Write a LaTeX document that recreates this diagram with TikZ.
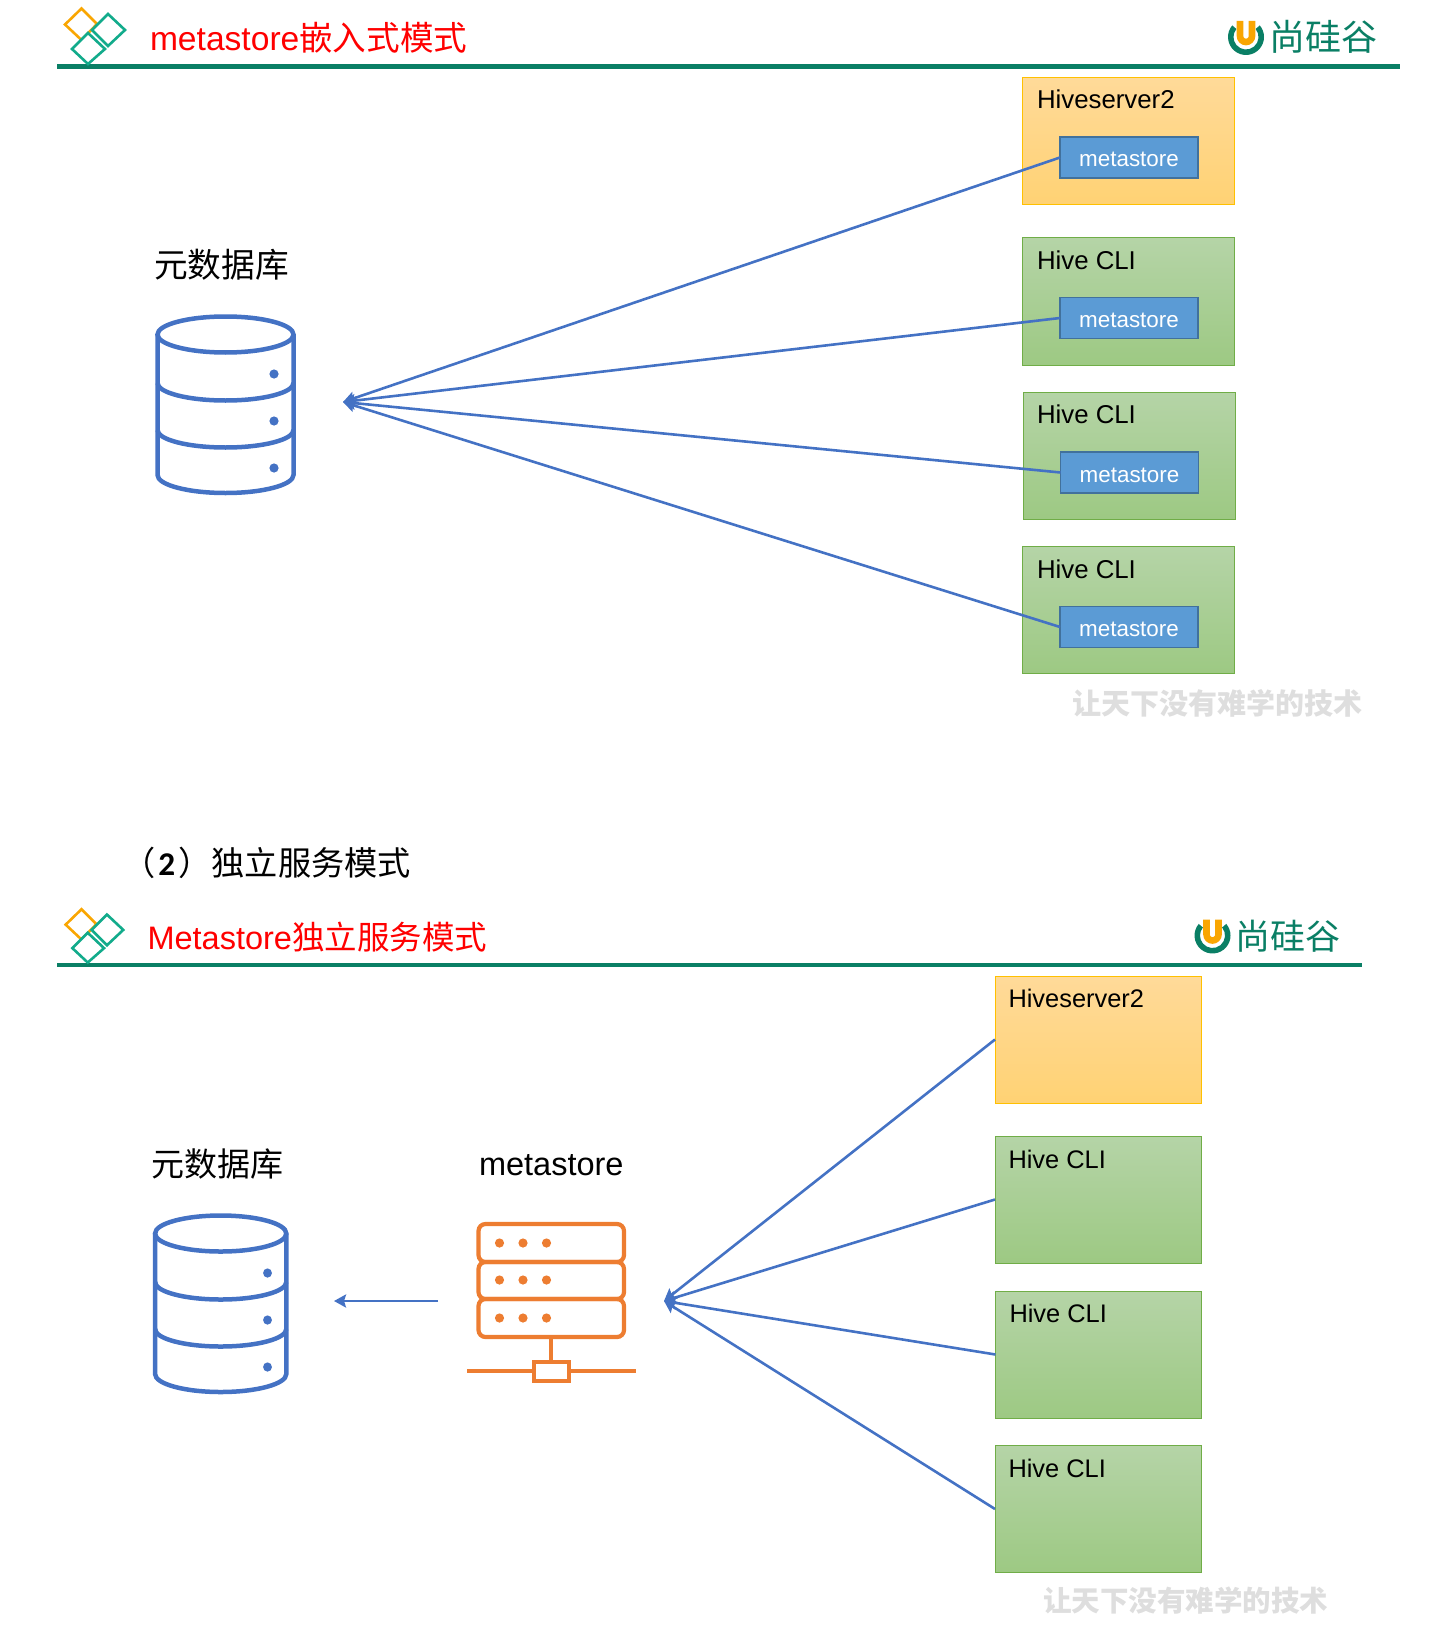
\documentclass[tikz,border=0pt]{standalone}
\usepackage{fontspec}
\setmainfont{Liberation Sans}
\newfontfamily\cjk{Noto Sans CJK SC}
\newfontfamily\digitfont{Carlito}
\usetikzlibrary{arrows.meta}
\definecolor{linkblue}{HTML}{4472C4}
\definecolor{srvorange}{HTML}{ED7D31}
\definecolor{rulegreen}{HTML}{0A7F65}
\definecolor{diagreen}{HTML}{12AB8B}
\definecolor{diaorange}{HTML}{F9A602}
\definecolor{orangeT}{HTML}{FFDA99}
\definecolor{orangeB}{HTML}{FFD274}
\definecolor{orangeE}{HTML}{FFC000}
\definecolor{greenT}{HTML}{B5D4A7}
\definecolor{greenB}{HTML}{9DC983}
\definecolor{greenE}{HTML}{70AD47}
\definecolor{storeF}{HTML}{5B9BD5}
\definecolor{storeE}{HTML}{41719C}
\newcommand{\fs}[1]{\fontsize{#1}{#1}\selectfont}
\tikzset{
  x=1pt,y=-1pt,
  txt/.style={inner sep=0pt,outer sep=0pt,anchor=west},
  title/.style={txt,text=red},
  boxlabel/.style={txt,text=black,font=\fs{25.8}},
  boxlabelb/.style={txt,text=black,font=\fs{25.4}},
  wm/.style={txt,text=black!13,font=\cjk\bfseries\fs{29}},
  hivebox/.style={draw=#1,line width=1pt,inner sep=0pt,outer sep=0pt,anchor=north west,minimum height=127pt},
  orangebox/.style={hivebox=orangeE,top color=orangeT,bottom color=orangeB,minimum width=#1},
  greenbox/.style={hivebox=greenE,top color=greenT,bottom color=greenB,minimum width=#1},
  storebox/.style={draw=storeE,line width=1.5pt,fill=storeF,text=white,font=\fs{22.4},inner sep=0pt,outer sep=0pt,minimum width=138pt,minimum height=41pt,anchor=north west,text height=19pt,text depth=0pt},
  link/.style={draw=linkblue,line width=2.6pt},
  linkarrow/.style={link,-{Stealth[length=12pt,width=13pt,inset=2pt]}},
  rulebar/.style={draw=rulegreen,line width=4.5pt},
  pics/dbicon/.style={code={
    \begin{scope}[draw=linkblue,line width=4.5pt]
      \draw (0,0) ellipse [x radius=68pt,y radius=18pt];
      \draw (-68,0) -- (-68,140.5) arc [start angle=180,end angle=360,x radius=68pt,y radius=18pt] -- (68,0);
      \draw (-68,48.5) arc [start angle=180,end angle=360,x radius=68pt,y radius=17.5pt];
      \draw (-68,95.5) arc [start angle=180,end angle=360,x radius=68pt,y radius=17.5pt];
    \end{scope}
    \fill[linkblue] (48.5,39.5) circle [radius=4.6pt] (48.5,86.5) circle [radius=4.6pt] (48.5,133.5) circle [radius=4.6pt];
  }},
  pics/diamonds/.style={code={
    \draw[diaorange,line width=2.6pt] (-16.5,-15.5) -- (0,-31.5) -- (15.5,-16) -- (0,0) -- cycle;
    \draw[diagreen,line width=2.6pt,fill=white] (10.5,-10) -- (26.5,-26) -- (43.5,-10) -- (26.5,6) -- cycle;
    \draw[diagreen,line width=2.6pt,fill=white] (-9.5,9) -- (6.5,-7) -- (23.5,9) -- (6.5,24) -- cycle;
  }},
  pics/ulogo/.style={code={
    \fill[rulegreen] (140:18pt) arc [start angle=140,end angle=400,radius=18pt] -- (40:12.5pt) arc [start angle=40,end angle=-220,radius=12.5pt] -- cycle;
    \draw[diaorange,line width=6.6pt] (-6,-16) -- (-6,-1) arc [start angle=180,end angle=360,radius=6pt] -- (6,-16);
  }},
}
\begin{document}
\begin{tikzpicture}
\useasboundingbox (0,0) rectangle (1454,1629);
% ---------- upper slide ----------
\draw[rulebar] (57,66.5) -- (1400,66.5);
\pic at (81.5,40) {diamonds};
\node[title,font=\fs{33.6}] (t1) at (150,38) {metastore{\cjk 嵌入式模式}};
\pic at (1246,37) {ulogo};
\node[txt,text=rulegreen,font=\cjk\fs{36}] (l1) at (1269,36.5) {尚硅谷};
\node[txt,font=\cjk\fs{33.7}] (d1) at (154,265) {元数据库};
\pic at (225.5,334.5) {dbicon};
\coordinate (tip1) at (343,402);
\node[orangebox=212pt] (a1) at (1022.5,77.5) {};
\node[greenbox=212pt] (a2) at (1022.5,238) {};
\node[greenbox=212pt] (a3) at (1023,392) {};
\node[greenbox=212pt] (a4) at (1022.5,546.5) {};
\node[boxlabel] (a1t) at (1037,99.5) {Hiveserver2};
\node[boxlabel] (a2t) at (1037,260) {Hive CLI};
\node[boxlabel] (a3t) at (1037,414) {Hive CLI};
\node[boxlabel] (a4t) at (1037,569) {Hive CLI};
\node[storebox] (m1) at (1060,137) {metastore};
\node[storebox] (m2) at (1060,297.5) {metastore};
\node[storebox] (m3) at (1060.5,452) {metastore};
\node[storebox] (m4) at (1060,606.5) {metastore};
\draw[linkarrow] (m1.west) -- (tip1);
\draw[linkarrow] (m2.west) -- (tip1);
\draw[linkarrow] (m3.west) -- (tip1);
\draw[linkarrow] (m4.west) -- (tip1);
\node[wm] (w1) at (1072,703) {让天下没有难学的技术};
% ---------- heading between ----------
\node[txt,font=\cjk\fs{33.2}] (h2) at (122,863) {（\kern3.2pt{\digitfont\bfseries 2}\kern3.2pt）独立服务模式};
% ---------- lower slide ----------
\draw[rulebar] (57,965) -- (1361.5,965);
\pic[scale=0.96] at (81.5,939.5) {diamonds};
\node[title,font=\fs{32.5}] (t2) at (147.5,937) {Metastore{\cjk 独立服务模式}};
\pic at (1212.5,935.5) {ulogo};
\node[txt,text=rulegreen,font=\cjk\fs{35}] (l2) at (1235,936) {尚硅谷};
\node[txt,font=\cjk\fs{33}] (d2) at (151,1164) {元数据库};
\pic[xscale=0.965] at (220.7,1233.5) {dbicon};
\node[txt,font=\fs{32.5}] (ms) at (479,1165) {metastore};
% server icon
\begin{scope}[draw=srvorange,line width=4.2pt]
  \draw[rounded corners=7pt] (478.5,1224) rectangle (624,1262);
  \draw[rounded corners=7pt] (478.5,1262) rectangle (624,1299);
  \draw[rounded corners=7pt] (478.5,1299) rectangle (624,1337);
  \draw (551,1337) -- (551,1362);
  \draw (467,1371) -- (534,1371) (569,1371) -- (635.5,1371);
  \draw (534,1362) rectangle (569,1381);
\end{scope}
\foreach \yy in {1243,1280,1318}{
  \fill[srvorange] (499.5,\yy) circle [radius=4.6pt] (523,\yy) circle [radius=4.6pt] (546.5,\yy) circle [radius=4.6pt];
}
\coordinate (tip2) at (664,1301);
\coordinate (arrS) at (438,1301);
\coordinate (arrE) at (334,1301);
\draw[linkarrow] (arrS) -- (arrE);
\node[orangebox=206.4pt] (b1) at (995,976) {};
\node[greenbox=206.4pt] (b2) at (995,1136) {};
\node[greenbox=206.4pt] (b3) at (995.5,1291) {};
\node[greenbox=206.4pt] (b4) at (995,1445.5) {};
\node[boxlabelb] (b1t) at (1008.5,998) {Hiveserver2};
\node[boxlabelb] (b2t) at (1008.5,1159) {Hive CLI};
\node[boxlabelb] (b3t) at (1009.5,1313) {Hive CLI};
\node[boxlabelb] (b4t) at (1008.5,1468) {Hive CLI};
\draw[linkarrow] (b1.west) -- (tip2);
\draw[linkarrow] (b2.west) -- (tip2);
\draw[linkarrow] (b3.west) -- (tip2);
\draw[linkarrow] (b4.west) -- (tip2);
\node[wm,font=\cjk\bfseries\fs{28.5}] (w2) at (1043,1601) {让天下没有难学的技术};
\end{tikzpicture}
\end{document}
